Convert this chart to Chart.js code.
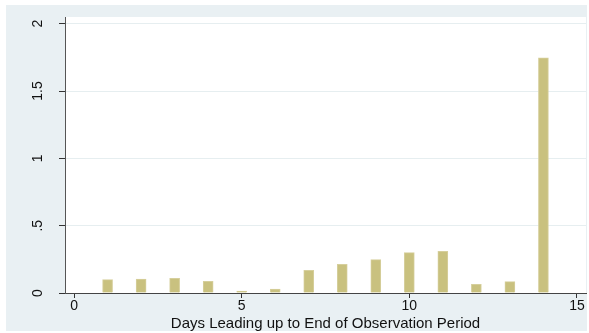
<!DOCTYPE html>
<html lang="en">
  <head>
    <meta charset="UTF-8" />
    <title>Days Leading up to End of Observation Period</title>
    <script src="https://cdn.jsdelivr.net/npm/chart.js"></script>
    <style>
      body {
        margin: 0;
        background: #fff;
      }
      .graph-region {
        position: absolute;
        left: 6px;
        top: 5px;
        width: 581px;
        height: 326px;
        background: #e9f0f3;
      }
      #chart-days {
        position: absolute;
        left: 0;
        top: 0;
      }
    </style>
  </head>
  <body>
    <div class="graph-region"></div>
    <canvas id="chart-days" width="589" height="333"></canvas>
    <script>
      // days before the end of the observation period, and the value for each
      const days = [1, 2, 3, 4, 5, 6, 7, 8, 9, 10, 11, 12, 13, 14];
      const values = [
        0.099, 0.104, 0.109, 0.087, 0.015, 0.03, 0.169, 0.213, 0.248, 0.3,
        0.31, 0.065, 0.084, 1.747,
      ];
      const xTicks = [0, 5, 10, 15];
      const yTicks = [0, 0.5, 1, 1.5, 2];

      const fontFamily = "'Liberation Sans', Arial, sans-serif";

      // white plot region behind the bars
      const plotBackground = {
        id: "plotBackground",
        beforeDraw(chart) {
          const { ctx, chartArea } = chart;
          ctx.save();
          ctx.fillStyle = "#ffffff";
          ctx.fillRect(
            chartArea.left,
            chartArea.top,
            chartArea.right - chartArea.left,
            chartArea.bottom - chartArea.top
          );
          ctx.restore();
        },
      };

      // y labels written vertically, reading upwards
      const verticalYLabels = {
        id: "verticalYLabels",
        afterDraw(chart) {
          const { ctx } = chart;
          const y = chart.scales.y;
          ctx.save();
          ctx.fillStyle = "#111";
          ctx.font = "14px " + fontFamily;
          ctx.textAlign = "center";
          ctx.textBaseline = "middle";
          yTicks.forEach((v) => {
            const label = String(v).replace(/^0\./, ".");
            ctx.save();
            ctx.translate(38, y.getPixelForValue(v));
            ctx.rotate(-Math.PI / 2);
            ctx.fillText(label, 0, 0);
            ctx.restore();
          });
          ctx.restore();
        },
      };

      const ctx = document.getElementById("chart-days").getContext("2d");
      new Chart(ctx, {
        type: "bar",
        data: {
          datasets: [
            {
              data: days.map((d, i) => ({ x: d, y: values[i] })),
              backgroundColor: "#c9c17f",
              borderColor: "#d6cf9c",
              borderWidth: 1,
              barThickness: 10,
            },
          ],
        },
        options: {
          responsive: false,
          animation: false,
          events: [],
          layout: { padding: { left: 0, right: 3, top: 17, bottom: 0 } },
          plugins: {
            legend: { display: false },
            tooltip: { enabled: false },
          },
          scales: {
            x: {
              type: "linear",
              min: -0.27,
              max: 15.27,
              offset: false,
              afterBuildTicks: (scale) => {
                scale.ticks = xTicks.map((v) => ({ value: v }));
              },
              afterFit: (scale) => {
                scale.height = 40;
              },
              grid: {
                offset: false,
                drawOnChartArea: false,
                drawTicks: true,
                tickLength: 5,
                tickColor: "#333",
              },
              border: { color: "#444", width: 1 },
              ticks: {
                color: "#111",
                padding: 0,
                maxRotation: 0,
                font: { family: fontFamily, size: 14 },
              },
              title: {
                display: true,
                text: "Days Leading up to End of Observation Period",
                color: "#111",
                padding: { top: -12, bottom: 0 },
                font: { family: fontFamily, size: 15 },
              },
            },
            y: {
              min: 0,
              max: 2.05,
              afterBuildTicks: (scale) => {
                scale.ticks = yTicks.map((v) => ({ value: v }));
              },
              afterFit: (scale) => {
                scale.width = 65;
              },
              grid: {
                color: "#e6eef0",
                lineWidth: 1,
                drawTicks: true,
                tickLength: 6,
                tickColor: "#333",
              },
              border: { color: "#555", width: 1 },
              ticks: { display: false },
            },
          },
        },
        plugins: [plotBackground, verticalYLabels],
      });
    </script>
  </body>
</html>
